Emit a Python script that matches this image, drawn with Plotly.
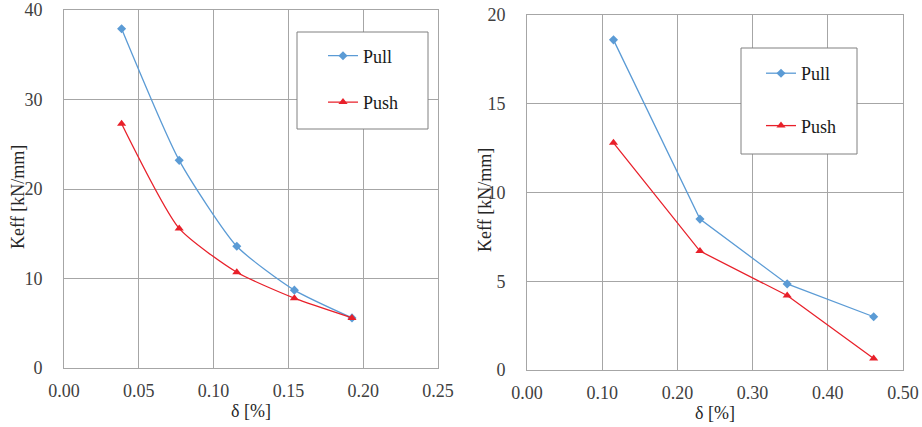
import plotly.graph_objects as go

# Left chart data
x_left = [0.0385, 0.077, 0.1155, 0.154, 0.1925]
pull_left = [37.9, 23.2, 13.6, 8.7, 5.6]
push_left = [27.3, 15.6, 10.7, 7.8, 5.6]

# Right chart data
x_right = [0.115, 0.23, 0.346, 0.461]
pull_right = [18.6, 8.5, 4.85, 3.0]
push_right = [12.8, 6.7, 4.2, 0.65]

xt_left = [0.0, 0.05, 0.10, 0.15, 0.20, 0.25]
yt_left = [0, 10, 20, 30, 40]
xt_right = [0.0, 0.10, 0.20, 0.30, 0.40, 0.50]
yt_right = [0, 5, 10, 15, 20]

x_title = "δ [%]"
y_title = "Keff [kN/mm]"

BLUE = "#5B9BD5"
RED = "#E8202A"
FONT = "Times New Roman"
GRID = "#A6A6A6"

W, H = 922, 427

fig = go.Figure()

fig.add_trace(go.Scatter(x=x_left, y=pull_left, name="Pull", mode="lines+markers",
                         line=dict(color=BLUE, width=1.3, shape="spline", smoothing=0.6),
                         marker=dict(symbol="diamond", size=7, color=BLUE),
                         xaxis="x", yaxis="y", legend="legend", legendgroup="a"))
fig.add_trace(go.Scatter(x=x_left, y=push_left, name="Push", mode="lines+markers",
                         line=dict(color=RED, width=1.3, shape="spline", smoothing=0.6),
                         marker=dict(symbol="triangle-up", size=8, color=RED),
                         xaxis="x", yaxis="y", legend="legend", legendgroup="b"))
fig.add_trace(go.Scatter(x=x_right, y=pull_right, name="Pull", mode="lines+markers",
                         line=dict(color=BLUE, width=1.3),
                         marker=dict(symbol="diamond", size=7, color=BLUE),
                         xaxis="x2", yaxis="y2", legend="legend2", legendgroup="c"))
fig.add_trace(go.Scatter(x=x_right, y=push_right, name="Push", mode="lines+markers",
                         line=dict(color=RED, width=1.3),
                         marker=dict(symbol="triangle-up", size=8, color=RED),
                         xaxis="x2", yaxis="y2", legend="legend2", legendgroup="d"))

def px_x(p):
    return p / W

def px_y(p):
    return 1 - p / H

axis_common = dict(showgrid=True, gridcolor=GRID, gridwidth=1, showline=True, linecolor=GRID,
                   linewidth=1, mirror=True, zeroline=False, ticks="", automargin=False,
                   tickfont=dict(family=FONT, size=18, color="#404040"))

title_font = dict(family=FONT, size=18, color="#262626")

fig.update_layout(
    width=W, height=H,
    margin=dict(l=0, r=0, t=0, b=0, autoexpand=False),
    paper_bgcolor="white", plot_bgcolor="white",
    font=dict(family=FONT, color="#262626"),
    xaxis=dict(domain=[px_x(64), px_x(438)], range=[0, 0.25], tickvals=xt_left,
               ticktext=[f"{v:.2f}" for v in xt_left], anchor="y", ticklabelstandoff=6,
               title=dict(text=x_title, font=title_font, standoff=4), **axis_common),
    yaxis=dict(domain=[px_y(368), px_y(10)], range=[0, 40], tickvals=yt_left, anchor="x",
               ticklabelstandoff=17, **axis_common),
    xaxis2=dict(domain=[px_x(527), px_x(903)], range=[0, 0.5], tickvals=xt_right,
                ticktext=[f"{v:.2f}" for v in xt_right], anchor="y2", ticklabelstandoff=6,
                title=dict(text=x_title, font=title_font, standoff=4), **axis_common),
    yaxis2=dict(domain=[px_y(370), px_y(15)], range=[0, 20], tickvals=yt_right, anchor="x2",
                ticklabelstandoff=17, **axis_common),
    legend=dict(x=px_x(323), y=px_y(37.5), xanchor="left", yanchor="top", bgcolor="rgba(0,0,0,0)",
                borderwidth=0, traceorder="grouped", tracegroupgap=20,
                font=dict(family=FONT, size=18, color="#1a1a1a")),
    legend2=dict(x=px_x(761), y=px_y(55), xanchor="left", yanchor="top", bgcolor="rgba(0,0,0,0)",
                 borderwidth=0, traceorder="grouped", tracegroupgap=26,
                 font=dict(family=FONT, size=18, color="#1a1a1a")),
    annotations=[
        dict(text=y_title, textangle=-90, xref="paper", yref="paper", x=px_x(18), y=px_y(197),
             xanchor="center", yanchor="middle", showarrow=False, font=title_font),
        dict(text=y_title, textangle=-90, xref="paper", yref="paper", x=px_x(485), y=px_y(200),
             xanchor="center", yanchor="middle", showarrow=False, font=title_font),
    ],
    shapes=[
        dict(type="rect", xref="paper", yref="paper", x0=px_x(297), x1=px_x(428),
             y0=px_y(129), y1=px_y(32), fillcolor="white", line=dict(color="#808080", width=1), layer="above"),
        dict(type="rect", xref="paper", yref="paper", x0=px_x(741), x1=px_x(857),
             y0=px_y(154), y1=px_y(48), fillcolor="white", line=dict(color="#808080", width=1), layer="above"),
    ],
)

fig.write_html("out.html")
